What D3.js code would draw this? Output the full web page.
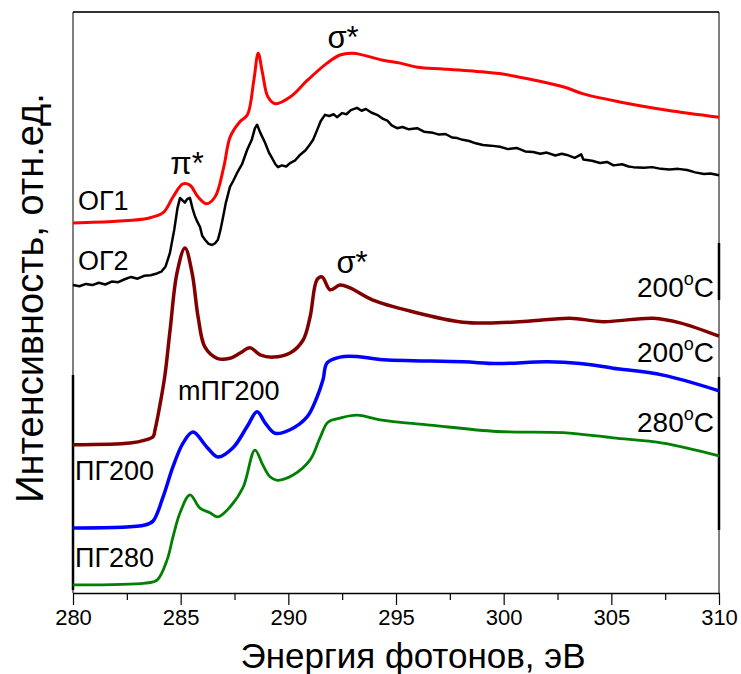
<!DOCTYPE html>
<html>
<head>
<meta charset="utf-8">
<script src="https://cdn.jsdelivr.net/npm/d3@7"></script>
<style>
  body { margin: 0; background: #fff; }
  text { font-family: Arial, "Liberation Sans", sans-serif; fill: #000; }
</style>
</head>
<body>
<svg id="chart" width="741" height="674"></svg>
<script>
// photon energy (eV) and intensity (arb. units, offset for stacking)
const energyOG1 = [280, 282, 283.5, 284.2, 284.65, 285.1, 285.43, 285.8, 286.2, 286.6, 287.0, 287.3, 287.75, 288.1, 288.4, 288.6, 288.8, 289.05, 289.4, 290.1, 290.9, 291.8, 292.4, 293.0, 294.4, 295.2, 296.0, 297.2, 299.0, 299.8, 301.4, 302.8, 303.7, 305.7, 307.6, 310];
const og1 = [6.37, 6.40, 6.45, 6.55, 6.82, 7.04, 7.02, 6.82, 6.70, 6.82, 7.33, 7.85, 8.11, 8.23, 8.83, 9.29, 8.95, 8.54, 8.42, 8.54, 8.83, 9.12, 9.26, 9.29, 9.17, 9.12, 9.05, 9.02, 8.97, 8.94, 8.83, 8.71, 8.59, 8.43, 8.31, 8.19];

const energyOG2 = [280.0, 280.3, 280.6, 280.9, 281.2, 281.5, 281.8, 282.1, 282.4, 282.7, 283.0, 283.3, 283.6, 283.9, 284.1, 284.3, 284.5, 284.7, 284.85, 284.97, 285.08, 285.2, 285.3, 285.43, 285.55, 285.65, 285.76, 285.9, 286.0, 286.13, 286.3, 286.46, 286.6, 286.73, 286.85, 286.97, 287.1, 287.29, 287.45, 287.62, 287.85, 288.08, 288.3, 288.45, 288.55, 288.7, 288.92, 289.1, 289.24, 289.4, 289.52, 289.7, 289.9, 290.08, 290.3, 290.54, 290.8, 291.0, 291.15, 291.35, 291.5, 291.7, 291.9, 292.1, 292.26, 292.5, 292.7, 292.9, 293.19, 293.4, 293.6, 293.85, 294.12, 294.4, 294.6, 294.8, 295.05, 295.3, 295.6, 295.98, 296.3, 296.72, 297.0, 297.3, 297.6, 297.84, 298.1, 298.4, 298.7, 299.04, 299.4, 299.83, 300.2, 300.6, 301.0, 301.37, 301.7, 302.0, 302.4, 302.7, 302.94, 303.3, 303.6, 303.7, 304.1, 304.48, 304.8, 305.1, 305.5, 305.8, 306.01, 306.5, 306.9, 307.3, 307.7, 308.1, 308.52, 308.9, 309.3, 309.6, 310.0];
const og2 = [5.30, 5.28, 5.32, 5.30, 5.34, 5.31, 5.36, 5.35, 5.40, 5.44, 5.41, 5.46, 5.47, 5.50, 5.53, 5.62, 5.85, 6.25, 6.62, 6.80, 6.76, 6.72, 6.78, 6.80, 6.62, 6.50, 6.40, 6.30, 6.15, 6.08, 6.01, 5.99, 6.02, 6.08, 6.25, 6.47, 6.72, 6.99, 7.10, 7.23, 7.38, 7.62, 7.80, 8.00, 8.06, 7.92, 7.75, 7.58, 7.49, 7.38, 7.33, 7.36, 7.34, 7.40, 7.44, 7.54, 7.62, 7.72, 7.80, 7.98, 8.12, 8.23, 8.21, 8.24, 8.19, 8.26, 8.24, 8.31, 8.35, 8.30, 8.33, 8.27, 8.23, 8.16, 8.13, 8.05, 8.00, 8.02, 7.98, 8.00, 7.94, 7.92, 7.89, 7.90, 7.84, 7.83, 7.80, 7.78, 7.74, 7.71, 7.70, 7.68, 7.64, 7.66, 7.60, 7.59, 7.56, 7.58, 7.53, 7.56, 7.54, 7.49, 7.55, 7.46, 7.44, 7.40, 7.42, 7.36, 7.38, 7.34, 7.33, 7.32, 7.33, 7.30, 7.29, 7.30, 7.28, 7.24, 7.21, 7.22, 7.19];

const energyMPG = [280, 282.65, 283.34, 283.72, 283.81, 284.04, 284.27, 284.51, 284.83, 285.2, 285.53, 285.81, 286.13, 286.69, 287.29, 287.76, 288.22, 288.69, 289.29, 290.08, 290.68, 291.01, 291.33, 291.57, 291.94, 292.4, 292.87, 293.93, 295.79, 298.11, 299.69, 301.23, 303.08, 304.62, 306.94, 308.19, 310];
const mpg200 = [2.55, 2.58, 2.63, 2.69, 2.81, 3.24, 3.75, 4.53, 5.51, 5.94, 5.51, 4.75, 4.23, 4.04, 4.04, 4.13, 4.22, 4.10, 4.06, 4.13, 4.35, 4.75, 5.39, 5.44, 5.22, 5.30, 5.25, 5.04, 4.84, 4.66, 4.65, 4.68, 4.73, 4.67, 4.73, 4.65, 4.42];

const energyPG200 = [280, 283.34, 283.72, 284.18, 284.64, 285.11, 285.57, 286.22, 286.73, 287.43, 288.08, 288.55, 288.92, 289.38, 290.08, 290.87, 291.33, 291.61, 291.8, 292.4, 293.19, 294.26, 298.11, 299.69, 302.02, 303.55, 305.08, 307.4, 310];
const pg200 = [1.12, 1.17, 1.24, 1.65, 2.17, 2.58, 2.77, 2.51, 2.34, 2.50, 2.86, 3.12, 2.93, 2.75, 2.81, 3.03, 3.37, 3.67, 3.96, 4.06, 4.07, 4.02, 3.98, 3.95, 3.98, 3.95, 3.87, 3.75, 3.48];

const energyPG280 = [280, 283.34, 283.9, 284.37, 284.64, 284.97, 285.43, 285.9, 286.36, 286.73, 287.29, 287.9, 288.45, 288.82, 289.15, 289.48, 290.22, 291.01, 291.47, 291.84, 292.4, 293.19, 294.26, 296.58, 299.69, 302.76, 305.08, 307.4, 310];
const pg280 = [0.14, 0.17, 0.22, 0.57, 0.96, 1.38, 1.69, 1.46, 1.38, 1.31, 1.48, 1.82, 2.46, 2.20, 2.00, 1.94, 2.03, 2.29, 2.67, 2.94, 3.01, 3.06, 2.98, 2.89, 2.78, 2.76, 2.67, 2.58, 2.36];

const xTicks = [280, 285, 290, 295, 300, 305, 310];
const xMinorTicks = [282.5, 287.5, 292.5, 297.5, 302.5, 307.5];

const smooth = d3.curveCatmullRom.alpha(0.5);
const series = [
  { x: energyOG1, y: og1, color: "#ff0000", width: 3, curve: smooth },
  { x: energyOG2, y: og2, color: "#000000", width: 2.5, curve: d3.curveLinear },
  { x: energyMPG, y: mpg200, color: "#800000", width: 3.5, curve: smooth },
  { x: energyPG200, y: pg200, color: "#0000ff", width: 3.5, curve: smooth },
  { x: energyPG280, y: pg280, color: "#008000", width: 2.8, curve: smooth }
];

const svg = d3.select("#chart");
const plotLeft = 73, plotRight = 719, plotTop = 12, plotBottom = 593;

const x = d3.scaleLinear().domain([280, 310]).range([plotLeft, plotRight]);
const y = d3.scaleLinear().domain([0, 10]).range([plotBottom, plotTop]);

// frame
svg.append("line").attr("x1", plotLeft).attr("x2", plotRight).attr("y1", plotTop).attr("y2", plotTop)
  .attr("stroke", "#333").attr("stroke-width", 2);
svg.append("line").attr("x1", plotLeft).attr("x2", plotLeft).attr("y1", plotTop).attr("y2", plotBottom)
  .attr("stroke", "#000").attr("stroke-width", 1);
svg.append("line").attr("x1", plotRight).attr("x2", plotRight).attr("y1", plotTop).attr("y2", plotBottom)
  .attr("stroke", "#000").attr("stroke-width", 1);
// heavier segments of the side lines
[[plotLeft, 375, 590], [plotRight, 243, 300], [plotRight, 377, 530]].forEach(s => {
  svg.append("line").attr("x1", s[0]).attr("x2", s[0]).attr("y1", s[1]).attr("y2", s[2])
    .attr("stroke", "#000").attr("stroke-width", 2.5);
});

const line = d3.line();
series.forEach(s => {
  const pts = s.x.map((e, i) => [e, s.y[i]]);
  svg.append("path")
    .attr("d", line.x(d => x(d[0])).y(d => y(d[1])).curve(s.curve)(pts))
    .attr("fill", "none")
    .attr("stroke", s.color)
    .attr("stroke-width", s.width)
    .attr("stroke-linejoin", "round");
});

// x axis
const xAxis = svg.append("g")
  .attr("transform", `translate(0,${plotBottom})`)
  .call(d3.axisBottom(x).tickValues(xTicks).tickSize(12).tickPadding(4).tickSizeOuter(0));
xAxis.select(".domain").attr("stroke-width", 1.5);
xAxis.selectAll(".tick line").attr("stroke-width", 1.2);
xAxis.selectAll("text").attr("font-size", 22).attr("font-family", "Arial, 'Liberation Sans', sans-serif");

svg.append("g")
  .attr("transform", `translate(0,${plotBottom})`)
  .call(d3.axisBottom(x).tickValues(xMinorTicks).tickSize(7).tickFormat(""))
  .call(g => g.select(".domain").remove())
  .selectAll(".tick line").attr("stroke-width", 1.2);

// axis titles
svg.append("text")
  .attr("x", 413).attr("y", 668)
  .attr("text-anchor", "middle").attr("font-size", 35)
  .text("Энергия фотонов, эВ");

svg.append("text")
  .attr("transform", "translate(43,298) rotate(-90)")
  .attr("text-anchor", "middle").attr("font-size", 38)
  .text("Интенсивность, отн.ед.");

// curve labels
const labels = [
  { t: "ОГ1", x: 78, y: 210 },
  { t: "ОГ2", x: 78, y: 270 },
  { t: "mПГ200", x: 178, y: 400 },
  { t: "ПГ200", x: 75, y: 480 },
  { t: "ПГ280", x: 75, y: 567 }
];
labels.forEach(l => {
  svg.append("text").attr("x", l.x).attr("y", l.y)
    .attr("font-size", 27).text(l.t);
});

const peaks = [
  { t: "π*", x: 187, y: 174 },
  { t: "σ*", x: 343, y: 48 },
  { t: "σ*", x: 352, y: 273 }
];
peaks.forEach(l => {
  svg.append("text").attr("x", l.x).attr("y", l.y)
    .attr("text-anchor", "middle").attr("font-size", 31)
    .attr("font-family", "'Liberation Serif', 'Times New Roman', serif")
    .text(l.t);
});

const temps = [
  { t: "200", y: 297 },
  { t: "200", y: 362 },
  { t: "280", y: 432 }
];
temps.forEach(l => {
  const txt = svg.append("text").attr("x", 714).attr("y", l.y)
    .attr("text-anchor", "end").attr("font-size", 28);
  txt.append("tspan").text(l.t);
  txt.append("tspan").attr("font-size", 18).attr("dy", -12).text("o");
  txt.append("tspan").attr("dy", 12).text("C");
});
</script>
</body>
</html>
